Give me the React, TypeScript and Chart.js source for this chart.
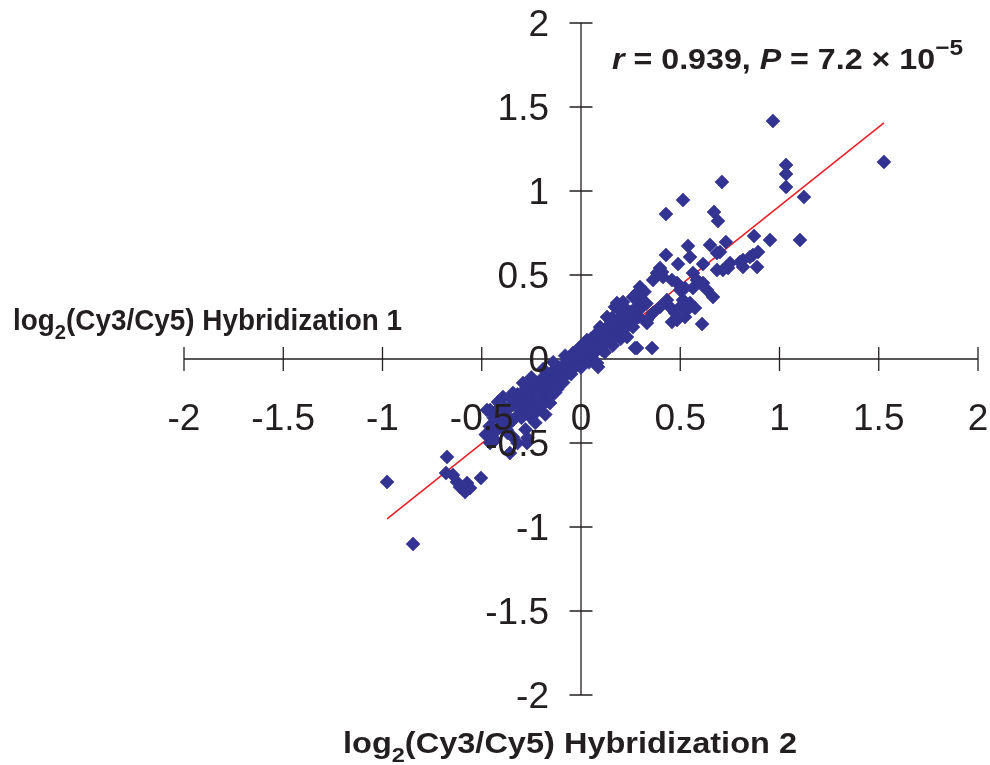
import React, { useEffect, useRef } from "react";
import { Chart, registerables } from "chart.js";

Chart.register(...registerables);

// ---------- data ----------
const axisTicks = [-2, -1.5, -1, -0.5, 0, 0.5, 1, 1.5, 2];
const tickLabels = ["-2", "-1.5", "-1", "-0.5", "0", "0.5", "1", "1.5", "2"];

const xTitleParts = ["log", "2", "(Cy3/Cy5) Hybridization 2"];
const yTitleParts = ["log", "2", "(Cy3/Cy5) Hybridization 1"];

const statR = "0.939";
const statP = "7.2";
const statExp = "\u22125";

// regression line (Hybridization 2 -> Hybridization 1)
const fitLineX = [-0.977, 1.526];
const fitLineY = [-0.952, 1.405];

// [Hybridization 2, Hybridization 1] log2 ratios
const centralBand: [number, number][] = [
  [-0.48, -0.45], [-0.46, -0.4], [-0.44, -0.35], [-0.43, -0.43], [-0.42, -0.3],
  [-0.4, -0.38], [-0.4, -0.27], [-0.38, -0.33], [-0.37, -0.44], [-0.36, -0.29],
  [-0.35, -0.24], [-0.34, -0.36], [-0.33, -0.28], [-0.32, -0.21], [-0.31, -0.33],
  [-0.3, -0.26], [-0.29, -0.19], [-0.28, -0.3], [-0.27, -0.23], [-0.26, -0.16],
  [-0.25, -0.27], [-0.24, -0.2], [-0.23, -0.14], [-0.22, -0.25], [-0.21, -0.18],
  [-0.2, -0.12], [-0.19, -0.22], [-0.18, -0.15], [-0.17, -0.1], [-0.16, -0.18],
  [-0.15, -0.12], [-0.14, -0.07], [-0.13, -0.15], [-0.12, -0.1], [-0.11, -0.05],
  [-0.1, -0.12], [-0.09, -0.07], [-0.08, -0.03], [-0.07, -0.09], [-0.06, -0.05],
  [-0.05, -0.01], [-0.04, -0.06], [-0.03, -0.02], [-0.02, 0.02], [-0.01, -0.03],
  [0.0, 0.01], [0.01, 0.05], [0.02, -0.01], [0.03, 0.03], [0.04, 0.07],
  [0.05, 0.02], [0.06, 0.06], [0.07, 0.1], [0.08, 0.05], [0.09, 0.09],
  [0.1, 0.13], [0.11, 0.08], [0.12, 0.12], [0.13, 0.16], [0.14, 0.11],
  [0.15, 0.15], [0.16, 0.19], [0.17, 0.14], [0.18, 0.18], [0.19, 0.22],
  [0.2, 0.16], [0.21, 0.21], [0.22, 0.25], [0.23, 0.19], [0.24, 0.24],
  [0.25, 0.28], [0.26, 0.22], [0.27, 0.27], [0.28, 0.31], [0.29, 0.25],
  [0.3, 0.3],
];

const bandEdges: [number, number][] = [
  [-0.26, -0.34], [-0.22, -0.31], [-0.17, -0.25], [-0.13, -0.2], [-0.09, -0.14],
  [-0.05, -0.09], [0.0, -0.05], [0.04, -0.02], [-0.08, 0.02], [-0.14, -0.02],
  [-0.19, -0.06], [-0.25, -0.11], [0.12, 0.04], [0.16, 0.08], [0.2, 0.12],
  [0.05, 0.12], [0.1, 0.18], [0.3, 0.36], [0.33, 0.33], [0.32, 0.4],
];

const lowerSpread: [number, number][] = [
  [-0.458, -0.304], [-0.393, -0.226], [-0.343, -0.202], [-0.292, -0.143], [-0.196, -0.226],
  [-0.156, -0.262], [-0.358, -0.381], [-0.343, -0.464], [-0.358, -0.56], [-0.373, -0.423],
  [-0.433, -0.482], [-0.458, -0.5], [-0.977, -0.732], [-0.846, -1.101], [-0.675, -0.583],
  [-0.68, -0.679], [-0.645, -0.69], [-0.625, -0.732], [-0.61, -0.762], [-0.574, -0.738],
  [-0.559, -0.768], [-0.584, -0.792], [-0.504, -0.708], [-0.3, -0.35], [-0.28, -0.42],
  [-0.25, -0.31], [-0.23, -0.38], [-0.2, -0.28], [-0.18, -0.33], [-0.27, -0.47],
  [-0.32, -0.5], [-0.22, -0.22], [-0.15, -0.22], [-0.12, -0.18], [-0.272, -0.5],
  [-0.418, -0.256], [-0.474, -0.304], [-0.458, -0.464],
];

const upperSpread: [number, number][] = [
  [0.967, 1.417], [1.033, 1.155], [1.033, 1.101], [1.033, 1.024], [1.123, 0.964],
  [1.526, 1.173], [0.872, 0.732], [0.952, 0.708], [1.103, 0.708], [0.71, 1.054],
  [0.514, 0.946], [0.428, 0.863], [0.67, 0.875], [0.69, 0.821], [0.539, 0.673],
  [0.428, 0.619], [0.65, 0.679], [0.73, 0.696], [0.7, 0.637], [0.489, 0.565],
  [0.549, 0.607], [0.685, 0.631], [0.615, 0.565], [0.685, 0.53], [0.741, 0.542],
  [0.816, 0.589], [0.866, 0.619], [0.892, 0.637], [0.887, 0.548], [0.816, 0.548],
  [0.715, 0.53], [0.751, 0.571], [0.801, 0.577], [0.851, 0.607], [0.383, 0.512],
  [0.408, 0.518], [0.363, 0.47], [0.297, 0.429], [0.282, 0.393], [0.181, 0.333],
  [0.212, 0.339], [0.156, 0.244], [0.131, 0.19], [0.484, 0.452], [0.499, 0.411],
  [0.564, 0.512], [0.584, 0.47], [0.615, 0.452], [0.635, 0.411], [0.665, 0.369],
  [0.514, 0.351], [0.549, 0.333], [0.499, 0.31], [0.433, 0.351], [0.448, 0.31],
  [0.474, 0.274], [0.534, 0.292], [0.574, 0.304], [0.458, 0.22], [0.61, 0.208],
  [0.363, 0.274], [0.332, 0.214], [0.358, 0.065], [0.272, 0.065], [0.398, 0.542],
  [0.413, 0.488], [0.458, 0.47], [0.524, 0.423], [0.564, 0.423], [0.6, 0.452],
  [0.398, 0.31], [0.524, 0.25], [0.484, 0.232], [0.262, 0.369], [0.171, 0.31],
  [0.196, 0.292], [0.232, 0.292], [0.131, 0.25], [0.146, 0.232], [0.181, 0.232],
  [0.232, 0.25], [0.332, 0.232], [0.096, 0.19], [0.161, 0.19], [0.262, 0.19],
  [0.081, 0.155], [0.111, 0.131], [0.161, 0.113], [0.232, 0.131], [0.282, 0.065],
  [0.03, 0.113], [0.06, 0.071], [0.096, 0.071], [-0.005, 0.071], [-0.04, 0.036],
  [-0.071, -0.006], [0.01, 0.036], [0.081, -0.024], [0.086, -0.048], [0.106, 0.054],
];

// ---------- drawing helpers ----------
const FONT = "'Liberation Sans', Arial, Helvetica, sans-serif";
const INK = "#231f20";
const MARKER = "#333391";

type Run = { text: string; font: string; dy?: number };

function drawRuns(ctx: CanvasRenderingContext2D, runs: Run[], x: number, y: number, width: number) {
  let total = 0;
  for (const r of runs) {
    ctx.font = r.font;
    total += ctx.measureText(r.text).width;
  }
  const s = width / total;
  ctx.save();
  ctx.translate(x, y);
  ctx.scale(s, 1);
  ctx.fillStyle = INK;
  ctx.textAlign = "left";
  ctx.textBaseline = "alphabetic";
  let cx = 0;
  for (const r of runs) {
    ctx.font = r.font;
    ctx.fillText(r.text, cx, r.dy || 0);
    cx += ctx.measureText(r.text).width;
  }
  ctx.restore();
}

const crossAxes = {
  id: "crossAxes",
  beforeDatasetsDraw(chart: any) {
    const { ctx } = chart;
    const xs = chart.scales.x;
    const ys = chart.scales.y;
    const x0 = xs.getPixelForValue(0);
    const y0 = ys.getPixelForValue(0);
    ctx.save();
    ctx.strokeStyle = INK;
    ctx.lineWidth = 1.3;
    ctx.beginPath();
    ctx.moveTo(xs.getPixelForValue(axisTicks[0]), y0);
    ctx.lineTo(xs.getPixelForValue(axisTicks[axisTicks.length - 1]), y0);
    ctx.moveTo(x0, ys.getPixelForValue(axisTicks[axisTicks.length - 1]));
    ctx.lineTo(x0, ys.getPixelForValue(axisTicks[0]));
    for (const v of axisTicks) {
      const px = xs.getPixelForValue(v);
      ctx.moveTo(px, y0 - 12);
      ctx.lineTo(px, y0 + 12);
      const py = ys.getPixelForValue(v);
      ctx.moveTo(x0 - 11.5, py);
      ctx.lineTo(x0 + 11.5, py);
    }
    ctx.stroke();
    ctx.restore();
  },
  afterDatasetsDraw(chart: any) {
    const { ctx } = chart;
    const xs = chart.scales.x;
    const ys = chart.scales.y;
    const x0 = xs.getPixelForValue(0);
    const y0 = ys.getPixelForValue(0);
    const fs = 37;
    ctx.save();
    ctx.fillStyle = INK;
    ctx.font = `${fs}px ${FONT}`;
    ctx.textBaseline = "alphabetic";
    const digitHalf = fs * 0.358;
    axisTicks.forEach((v, i) => {
      ctx.textAlign = "center";
      ctx.fillText(tickLabels[i], xs.getPixelForValue(v), y0 + 58 + digitHalf);
      ctx.textAlign = "right";
      ctx.fillText(tickLabels[i], x0 - 32, ys.getPixelForValue(v) + digitHalf);
    });
    ctx.restore();

    const bold = `bold 29px ${FONT}`;
    const sub = `bold 21px ${FONT}`;
    drawRuns(
      ctx,
      [
        { text: yTitleParts[0], font: bold },
        { text: yTitleParts[1], font: sub, dy: 9 },
        { text: yTitleParts[2], font: bold },
      ],
      13, 330, 389
    );
    drawRuns(
      ctx,
      [
        { text: xTitleParts[0], font: bold },
        { text: xTitleParts[1], font: sub, dy: 9 },
        { text: xTitleParts[2], font: bold },
      ],
      343, 753, 454
    );
    const ital = `italic bold 29px ${FONT}`;
    drawRuns(
      ctx,
      [
        { text: "r", font: ital },
        { text: ` = ${statR}, `, font: bold },
        { text: "P", font: ital },
        { text: ` = ${statP} \u00d7 10`, font: bold },
        { text: statExp, font: `bold 22px ${FONT}`, dy: -14 },
      ],
      612, 69, 351
    );
  },
};

export default function App() {
  const canvasRef = useRef<HTMLCanvasElement | null>(null);

  useEffect(() => {
    document.body.style.margin = "0";
    const canvas = canvasRef.current;
    if (!canvas) return;
    const points = [...centralBand, ...bandEdges, ...lowerSpread, ...upperSpread].map(([x, y]) => ({ x, y }));
    const fit = fitLineX.map((x, i) => ({ x, y: fitLineY[i] }));

    const chart = new Chart(canvas, {
      type: "scatter",
      data: {
        datasets: [
          {
            type: "scatter",
            label: "genes",
            data: points,
            pointStyle: "rectRot",
            pointRadius: 7,
            pointHoverRadius: 7,
            backgroundColor: MARKER,
            borderColor: MARKER,
            borderWidth: 0.6,
            order: 1,
          },
          {
            type: "line",
            label: "fit",
            data: fit,
            borderColor: "#ed1c24",
            borderWidth: 1.5,
            pointRadius: 0,
            fill: false,
            order: 2,
          } as any,
        ],
      },
      options: {
        animation: false,
        responsive: false,
        maintainAspectRatio: false,
        layout: { padding: { left: 184, right: 12, top: 23, bottom: 70 } },
        plugins: { legend: { display: false }, tooltip: { enabled: false } },
        scales: {
          x: { type: "linear", min: -2, max: 2, display: false },
          y: { type: "linear", min: -2, max: 2, display: false },
        },
        events: [],
      },
      plugins: [crossAxes],
    });
    return () => chart.destroy();
  }, []);

  return (
    <div style={{ width: 990, height: 765, background: "#ffffff" }}>
      <canvas ref={canvasRef} width={990} height={765} style={{ display: "block" }} />
    </div>
  );
}
